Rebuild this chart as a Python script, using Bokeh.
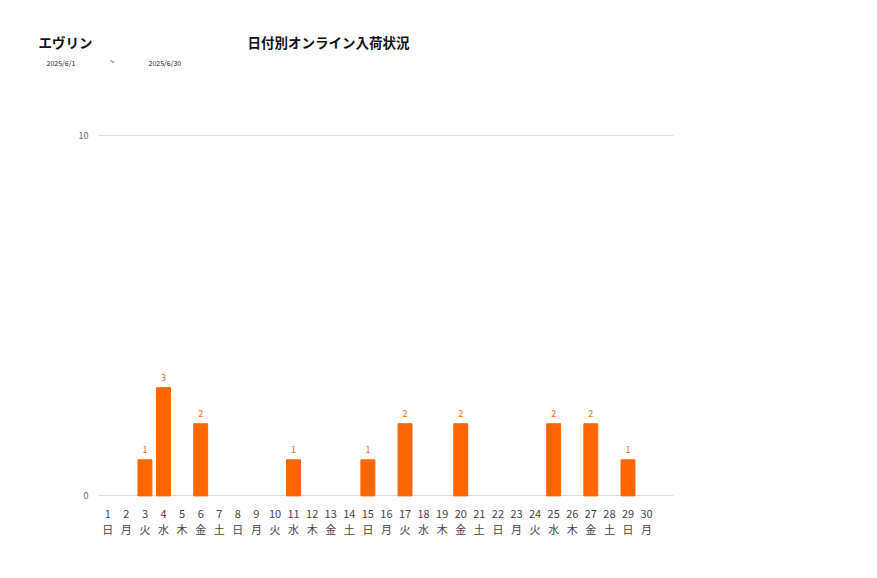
from bokeh.plotting import figure
from bokeh.models import ColumnDataSource, FixedTicker, Range1d
from bokeh.layouts import column
from bokeh.embed import file_html
from bokeh.resources import INLINE
from bokeh.core.properties import value

days = list(range(1, 31))
weekdays = (["日", "月", "火", "水", "木", "金", "土"] * 5)[:30]
counts = [0, 0, 1, 3, 0, 2, 0, 0, 0, 0, 1, 0, 0, 0, 1, 0, 2, 0, 0, 2,
          0, 0, 0, 0, 2, 0, 2, 0, 1, 0]
y_ticks = [0, 10]
title_left = "エヴリン"
title_main = "日付別オンライン入荷状況"
date_from = "2025/6/1"
date_sep = "~"
date_to = "2025/6/30"

FONT = "Noto Sans CJK JP"
ORANGE = "#FF6600"
W = 860
HEAD_H = 100

# ---------- header (titles) ----------
head = figure(width=W, height=HEAD_H, output_backend="svg", toolbar_location=None,
              x_range=Range1d(0, W), y_range=Range1d(HEAD_H, 0),
              x_axis_type=None, y_axis_type=None, min_border=0)
head.frame_align = False
head.outline_line_color = None
hsrc_big = ColumnDataSource(dict(x=[38, 247], y=[31, 31], t=[title_left, title_main]))
head.text(x="x", y="y", text="t", source=hsrc_big, text_font=value(FONT),
          text_font_size="13.5px", text_font_style="bold", text_baseline="top",
          text_color="#111111")
hsrc_small = ColumnDataSource(dict(x=[46, 148], y=[57, 57], t=[date_from, date_to]))
head.text(x="x", y="y", text="t", source=hsrc_small, text_font=value(FONT),
          text_font_size="7px", text_baseline="top", text_color="#222222")
hsrc_sep = ColumnDataSource(dict(x=[109], y=[54], t=[date_sep]))
head.text(x="x", y="y", text="t", source=hsrc_sep, text_font=value(FONT),
          text_font_size="9px", text_baseline="top", text_color="#222222")

# ---------- main chart ----------
nz_x = [d for d, c in zip(days, counts) if c > 0]
nz_y = [c for c in counts if c > 0]
src = ColumnDataSource(dict(x=nz_x, y=nz_y, lbl=[str(c) for c in nz_y]))

p = figure(width=W, height=460, output_backend="svg", toolbar_location=None,
           x_range=Range1d(0.5, 31.45), y_range=Range1d(-0.1, 10.1),
           min_border_left=98, min_border_right=187, min_border_top=31,
           min_border_bottom=61)
p.frame_align = False
p.outline_line_color = None
p.vbar(x="x", top="y", width=0.75, source=src, color=ORANGE)
p.text(x="x", y="y", text="lbl", source=src, text_align="center",
       text_baseline="bottom", y_offset=-7, text_font_size="9px",
       text_color="#E8701A", text_font=value(FONT))

p.xaxis.ticker = FixedTicker(ticks=days)
p.xaxis.major_label_overrides = {d: f"{d}\n{w}" for d, w in zip(days, weekdays)}
p.xaxis.axis_line_color = None
p.xaxis.major_tick_line_color = None
p.xaxis.minor_tick_line_color = None
p.xaxis.major_label_text_font = FONT
p.xaxis.major_label_text_font_size = "11px"
p.xaxis.major_label_text_color = "#444444"
p.xaxis.major_label_text_line_height = 1.03
p.xaxis.major_label_standoff = -1
p.xgrid.grid_line_color = None

p.yaxis.ticker = FixedTicker(ticks=y_ticks)
p.yaxis.axis_line_color = None
p.yaxis.major_tick_line_color = None
p.yaxis.minor_tick_line_color = None
p.yaxis.major_label_text_font = FONT
p.yaxis.major_label_text_font_size = "9px"
p.yaxis.major_label_text_color = "#666666"
p.yaxis.major_label_standoff = 4
p.ygrid.grid_line_color = "#DDDDDD"
p.ygrid.grid_line_width = 1.2

layout = column(head, p, spacing=0)
open("out.html", "w").write(file_html(layout, INLINE))
